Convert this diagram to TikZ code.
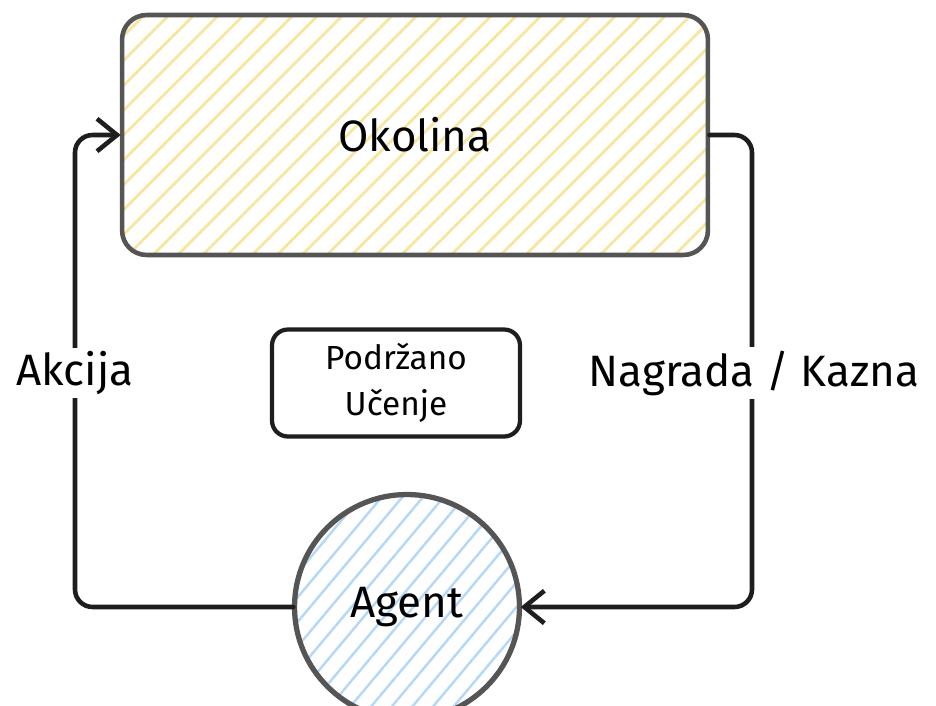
\documentclass[tikz,border=0pt]{standalone}
\usepackage{fontspec}
\setmainfont{Fira Sans}
\usetikzlibrary{arrows.meta,patterns.meta}

\definecolor{rub}{HTML}{555555}
\definecolor{crta}{HTML}{1E1E1E}
\definecolor{zuta}{HTML}{F7E6A0}
\definecolor{plava}{HTML}{B5D8F6}

\tikzset{
    okolinabox/.style={draw=rub, line width=2.6pt, rounded corners=14pt,
        pattern={Lines[angle=45,distance=10pt,line width=1.6pt]}, pattern color=zuta,
        minimum width=11.72cm, minimum height=4.8cm, font=\fontsize{25}{30}\selectfont},
    ucenjebox/.style={draw=crta, line width=2.4pt, rounded corners=9pt, fill=white,
        minimum width=4.96cm, minimum height=2.14cm, align=center,
        font=\fontsize{19}{26}\selectfont},
    agentkrug/.style={circle, draw=rub, line width=3pt,
        pattern={Lines[angle=50,distance=9pt,line width=1.4pt]}, pattern color=plava,
        minimum size=4.5cm, font=\fontsize{25}{30}\selectfont},
    veza/.style={draw=crta, line width=2.6pt, rounded corners=10pt, line cap=round,
        -{Straight Barb[length=4mm,width=6.5mm,line width=2.6pt]}},
    oznaka/.style={fill=white, inner sep=2pt, font=\fontsize{25}{30}\selectfont}
}

\begin{document}
\begin{tikzpicture}[x=0.02cm,y=-0.02cm]
    \useasboundingbox (0,0) rectangle (936,706);

    % draw nodes
    \node[okolinabox] (okolina) at (415,135) {Okolina};
    \node[ucenjebox] (ucenje) at (396,383) {Podržano\\Učenje};
    \node[agentkrug] (agent) at (407,607) {Agent};

    % draw connectors
    \coordinate (lijevo) at (75,135);
    \coordinate (desno) at (752,135);
    \draw[veza] (agent.west) -| (lijevo) -- (okolina.west);
    \draw[veza] (okolina.east) -- (desno) |- (agent.east);

    % draw labels
    \node[oznaka] (akcija) at (75,373) {Akcija};
    \node[oznaka] (nagrada) at (754,373) {Nagrada / Kazna};
\end{tikzpicture}
\end{document}
